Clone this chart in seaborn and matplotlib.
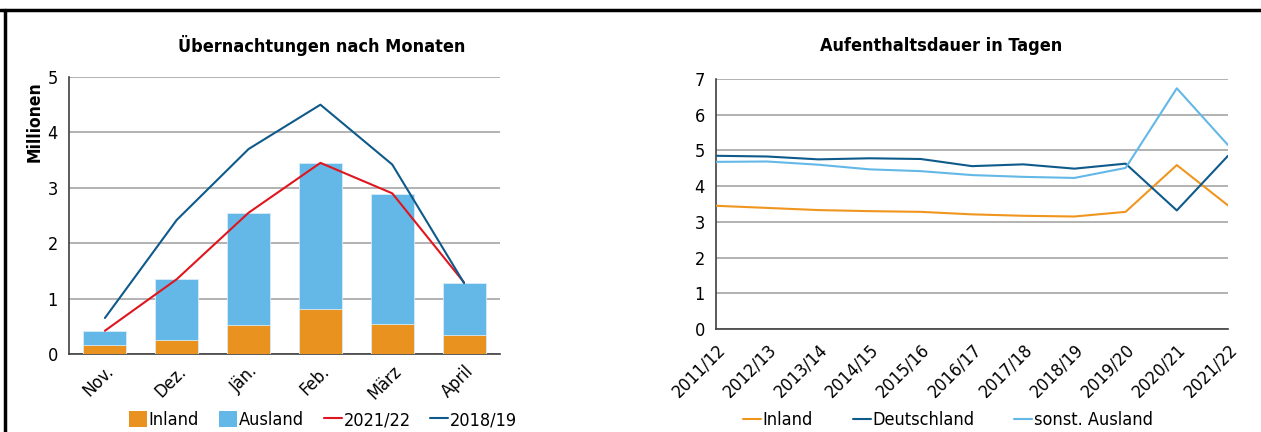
import matplotlib
matplotlib.use("Agg")
import matplotlib.pyplot as plt
import seaborn as sns
import numpy as np
import pandas as pd
from matplotlib.lines import Line2D
from matplotlib.patches import Patch

# ---- data ----
months = ["Nov.", "Dez.", "Jän.", "Feb.", "März", "April"]
inland = [0.17, 0.25, 0.52, 0.82, 0.55, 0.34]
total_2122 = [0.42, 1.35, 2.54, 3.45, 2.89, 1.29]
line_2122 = [0.42, 1.35, 2.55, 3.45, 2.90, 1.29]
line_1819 = [0.65, 2.42, 3.70, 4.50, 3.42, 1.28]

seasons = ["2011/12", "2012/13", "2013/14", "2014/15", "2015/16", "2016/17",
           "2017/18", "2018/19", "2019/20", "2020/21", "2021/22"]
dauer_inland = [3.45, 3.39, 3.33, 3.30, 3.28, 3.21, 3.17, 3.15, 3.28, 4.59, 3.46]
dauer_de = [4.85, 4.83, 4.75, 4.78, 4.76, 4.56, 4.61, 4.49, 4.63, 3.32, 4.85]
dauer_sonst = [4.68, 4.69, 4.60, 4.47, 4.42, 4.31, 4.26, 4.23, 4.51, 6.74, 5.15]

C_ORANGE = "#EA9220"
C_LBLUE = "#63B8E8"
C_RED = "#E0161E"
C_DBLUE = "#0E5A8A"
GRID = "#A6A6A6"

sns.set_theme(style="white")
plt.rcParams["font.family"] = ["DejaVu Sans"]
plt.rcParams["font.stretch"] = "condensed"
plt.rcParams["font.size"] = 12
plt.rcParams["text.color"] = "black"
plt.rcParams["xtick.color"] = "black"
plt.rcParams["ytick.color"] = "black"
plt.rcParams["axes.labelcolor"] = "black"

fig = plt.figure(figsize=(12.61, 4.32), dpi=100)

# ---------- left chart ----------
ax1 = fig.add_axes([69/1261, 1-354/432, (500-69)/1261, (354-77)/432])
df1 = pd.DataFrame({"Monat": months, "Inland": inland, "Total": total_2122})
sns.barplot(data=df1, x="Monat", y="Total", color=C_LBLUE, width=0.6,
            saturation=1, ax=ax1, zorder=2)
sns.barplot(data=df1, x="Monat", y="Inland", color=C_ORANGE, width=0.6,
            saturation=1, ax=ax1, zorder=3)
for p in ax1.patches:
    p.set_edgecolor("#D8ECF8")
    p.set_linewidth(0.6)
xs = np.arange(len(months))
dfl = pd.DataFrame({"x": np.concatenate([xs, xs]),
                    "y": line_2122 + line_1819,
                    "s": ["2021/22"] * 6 + ["2018/19"] * 6})
sns.lineplot(data=dfl, x="x", y="y", hue="s",
             palette={"2021/22": C_RED, "2018/19": C_DBLUE},
             linewidth=1.5, ax=ax1, legend=False, zorder=4)
ax1.set_xlim(-0.5, 5.5)
ax1.set_ylim(0, 5)
ax1.set_yticks([0, 1, 2, 3, 4, 5])
ax1.set_xticks(np.arange(6))
ax1.set_xticklabels(months, rotation=45, ha="right", rotation_mode="anchor")
ax1.set_xticks(np.arange(-0.5, 6, 1), minor=True)
ax1.tick_params(axis="x", which="major", length=0, pad=6, labelsize=13)
ax1.tick_params(axis="x", which="minor", length=5, width=1, color="#404040", direction="out")
ax1.tick_params(axis="y", length=4, width=1, color="#404040", direction="out", pad=4, labelsize=13)
ax1.yaxis.grid(True, color=GRID, linewidth=1.2, zorder=0)
ax1.set_axisbelow(True)
for s in ["top", "right"]:
    ax1.spines[s].set_visible(False)
for s in ["left", "bottom"]:
    ax1.spines[s].set_color("#404040")
    ax1.spines[s].set_linewidth(1.2)
ax1.set_xlabel("")
ax1.set_ylabel("Millionen", fontweight="bold", fontsize=12.5)
ax1.yaxis.set_label_coords(-0.058, 0.84)
fig.text(322/1261, 1-45/432, "Übernachtungen nach Monaten", fontweight="bold",
         fontsize=13, ha="center", va="center")
h1 = [Patch(facecolor=C_ORANGE, edgecolor="none"),
      Patch(facecolor=C_LBLUE, edgecolor="none"),
      Line2D([], [], color=C_RED, lw=1.5),
      Line2D([], [], color=C_DBLUE, lw=1.5)]
fig.legend(h1, ["Inland", "Ausland", "2021/22", "2018/19"], ncol=4,
           loc="center", bbox_to_anchor=(323/1261, 1-420/432), frameon=False,
           fontsize=13, handlelength=1.0, handleheight=1.0, handletextpad=0.1,
           columnspacing=1.1, borderaxespad=0)

# ---------- right chart ----------
ax2 = fig.add_axes([716/1261, 1-329/432, (1228-716)/1261, (329-79)/432])
xs2 = np.arange(len(seasons))
dfr = pd.DataFrame({"x": np.concatenate([xs2, xs2, xs2]),
                    "y": dauer_inland + dauer_de + dauer_sonst,
                    "s": ["Inland"] * 11 + ["Deutschland"] * 11 + ["sonst. Ausland"] * 11})
sns.lineplot(data=dfr, x="x", y="y", hue="s",
             palette={"Inland": "#F0961E", "Deutschland": C_DBLUE, "sonst. Ausland": C_LBLUE},
             linewidth=1.5, ax=ax2, legend=False, zorder=3)
ax2.set_xlim(0, 10)
ax2.set_ylim(0, 7)
ax2.set_yticks(range(8))
ax2.set_xticks(xs2)
ax2.set_xticklabels(seasons, rotation=45, ha="right", rotation_mode="anchor")
ax2.tick_params(axis="x", length=5, width=1, color="#404040", direction="out", pad=3, labelsize=13)
ax2.tick_params(axis="y", length=4, width=1, color="#404040", direction="out", pad=4, labelsize=13)
ax2.yaxis.grid(True, color=GRID, linewidth=1.2, zorder=0)
ax2.set_axisbelow(True)
for s in ["top", "right"]:
    ax2.spines[s].set_visible(False)
for s in ["left", "bottom"]:
    ax2.spines[s].set_color("#404040")
    ax2.spines[s].set_linewidth(1.2)
ax2.set_xlabel("")
ax2.set_ylabel("")
fig.text(941/1261, 1-46/432, "Aufenthaltsdauer in Tagen", fontweight="bold",
         fontsize=13, ha="center", va="center")
h2 = [Line2D([], [], color="#F0961E", lw=1.5),
      Line2D([], [], color=C_DBLUE, lw=1.5),
      Line2D([], [], color=C_LBLUE, lw=1.5)]
fig.legend(h2, ["Inland", "Deutschland", "sonst. Ausland"], ncol=3,
           loc="center", bbox_to_anchor=(948/1261, 1-420/432), frameon=False,
           fontsize=13, handlelength=1.0, handletextpad=0.1,
           columnspacing=2.2, borderaxespad=0)

# ---------- frame lines ----------
fig.add_artist(Line2D([0, 1], [1-10/432, 1-10/432], color="black", lw=2.5,
                      transform=fig.transFigure))
fig.add_artist(Line2D([5/1261, 5/1261], [0, 1-10/432], color="black", lw=2.5,
                      transform=fig.transFigure))

fig.savefig("out.png", dpi=100)
